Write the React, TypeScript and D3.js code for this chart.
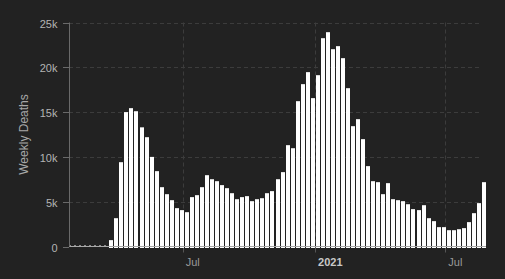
import React from 'react';
import * as d3 from 'd3';

// Weekly deaths in thousands, one value per week starting at startDate
const weeklyDeathsK = [
  0.01, 0.01, 0.01, 0.01, 0.01, 0.01, 0.01, 0.02,
  0.71, 3.16, 9.41, 15.0, 15.44, 15.1, 13.3, 12.2, 10.0, 8.41,
  6.62, 5.84, 5.17, 4.28, 4.06, 3.83, 5.51, 5.73, 6.62, 7.96,
  7.51, 7.29, 6.85, 6.51, 5.95, 5.28, 5.51, 5.62, 5.06, 5.28,
  5.39, 5.95, 6.18, 7.51, 8.3, 11.31, 10.97, 16.22, 18.12, 19.46,
  16.56, 19.12, 23.25, 23.92, 22.02, 22.36, 21.02, 17.67, 13.43, 14.21,
  11.98, 8.97, 7.29, 7.18, 5.84, 7.07, 5.28, 5.17, 5.06, 4.72,
  4.17, 4.06, 4.61, 3.16, 2.83, 2.16, 2.16, 1.82, 1.82, 1.93,
  2.05, 2.72, 3.72, 4.84, 7.18,
];
const startDate = '2020-01-25';
const yTicks = [0, 5, 10, 15, 20, 25];
const yTickLabels = ['0', '5k', '10k', '15k', '20k', '25k'];
const xTickDates = ['2020-07-01', '2021-01-01', '2021-07-01'];
const xTickLabels = ['Jul', '2021', 'Jul'];
const yTitle = 'Weekly Deaths';

const W = 505;
const H = 279;
const plotLeft = 69;
const plotRight = 481;
const plotTop = 22.5;
const plotBottom = 246.5;
const FONT = '"Liberation Sans", Arial, sans-serif';

export default function App() {
  const parse = d3.utcParse('%Y-%m-%d');
  const start = parse(startDate) as Date;
  const dates = weeklyDeathsK.map((_, i) => d3.utcDay.offset(start, i * 7));
  const x = d3
    .scaleUtc()
    .domain([dates[0], dates[dates.length - 1]])
    .range([plotLeft, 482]);
  const y = d3.scaleLinear().domain([0, 25]).range([plotBottom, plotTop]);

  return (
    <svg
      width={W}
      height={H}
      style={{ position: 'fixed', left: 0, top: 0, background: '#222222', display: 'block' }}
    >
      <rect x={0} y={0} width={W} height={H} fill="#222222" />
      {/* horizontal gridlines */}
      {yTicks.slice(1).map((t) => (
        <line
          key={'gy' + t}
          x1={plotLeft}
          x2={plotRight}
          y1={Math.round(y(t)) + 0.5}
          y2={Math.round(y(t)) + 0.5}
          stroke="#3c3c3c"
          strokeDasharray="4,3"
        />
      ))}
      {/* vertical gridlines */}
      {xTickDates.map((d, i) => {
        const xx = Math.round(x(parse(d) as Date)) + 0.5;
        return (
          <g key={'gx' + i}>
            <line x1={xx} x2={xx} y1={plotTop} y2={plotBottom} stroke="#3c3c3c" strokeDasharray="4,3" />
            <line x1={xx} x2={xx} y1={plotBottom} y2={plotBottom + 6} stroke="#555" />
          </g>
        );
      })}
      {/* bars */}
      {weeklyDeathsK.map((v, i) => {
        const bx = Math.round(x(dates[i]));
        const h = plotBottom + 1.5 - y(v);
        if (v < 0.1) {
          return <rect key={i} x={bx} y={plotBottom - 1.5} width={2} height={2} fill="#8a8a8a" />;
        }
        return <rect key={i} x={bx} y={y(v)} width={4} height={h} fill="#ffffff" />;
      })}
      {/* baseline */}
      <line x1={plotLeft} x2={486} y1={plotBottom} y2={plotBottom} stroke="#a8a8a8" strokeWidth={1} />
      {/* y axis */}
      <line x1={plotLeft + 0.5} x2={plotLeft + 0.5} y1={plotTop} y2={plotBottom} stroke="#6a6a6a" />
      {yTicks.map((t, i) => {
        const yy = Math.round(y(t)) + 0.5;
        return (
          <g key={'yt' + t}>
            <line x1={plotLeft - 6} x2={plotLeft} y1={yy} y2={yy} stroke="#6a6a6a" />
            <text
              x={57.5}
              y={yy}
              textAnchor="end"
              dominantBaseline="central"
              fill="#b4b4b4"
              fontSize={11}
              fontFamily={FONT}
            >
              {yTickLabels[i]}
            </text>
          </g>
        );
      })}
      {/* x tick labels */}
      {xTickDates.map((d, i) => {
        const xx = x(parse(d) as Date);
        const bold = xTickLabels[i] === '2021';
        return (
          <text
            key={'xl' + i}
            x={xx + 3}
            y={265.5}
            textAnchor="start"
            fill={bold ? '#c8c8c8' : '#9a9a9a'}
            fontWeight={bold ? 'bold' : 'normal'}
            fontSize={11}
            fontFamily={FONT}
          >
            {xTickLabels[i]}
          </text>
        );
      })}
      {/* y title */}
      <text
        transform={`translate(24,${(plotTop + plotBottom) / 2}) rotate(-90)`}
        textAnchor="middle"
        dominantBaseline="central"
        fill="#a8a8a8"
        fontSize={12}
        fontFamily={FONT}
      >
        {yTitle}
      </text>
    </svg>
  );
}
